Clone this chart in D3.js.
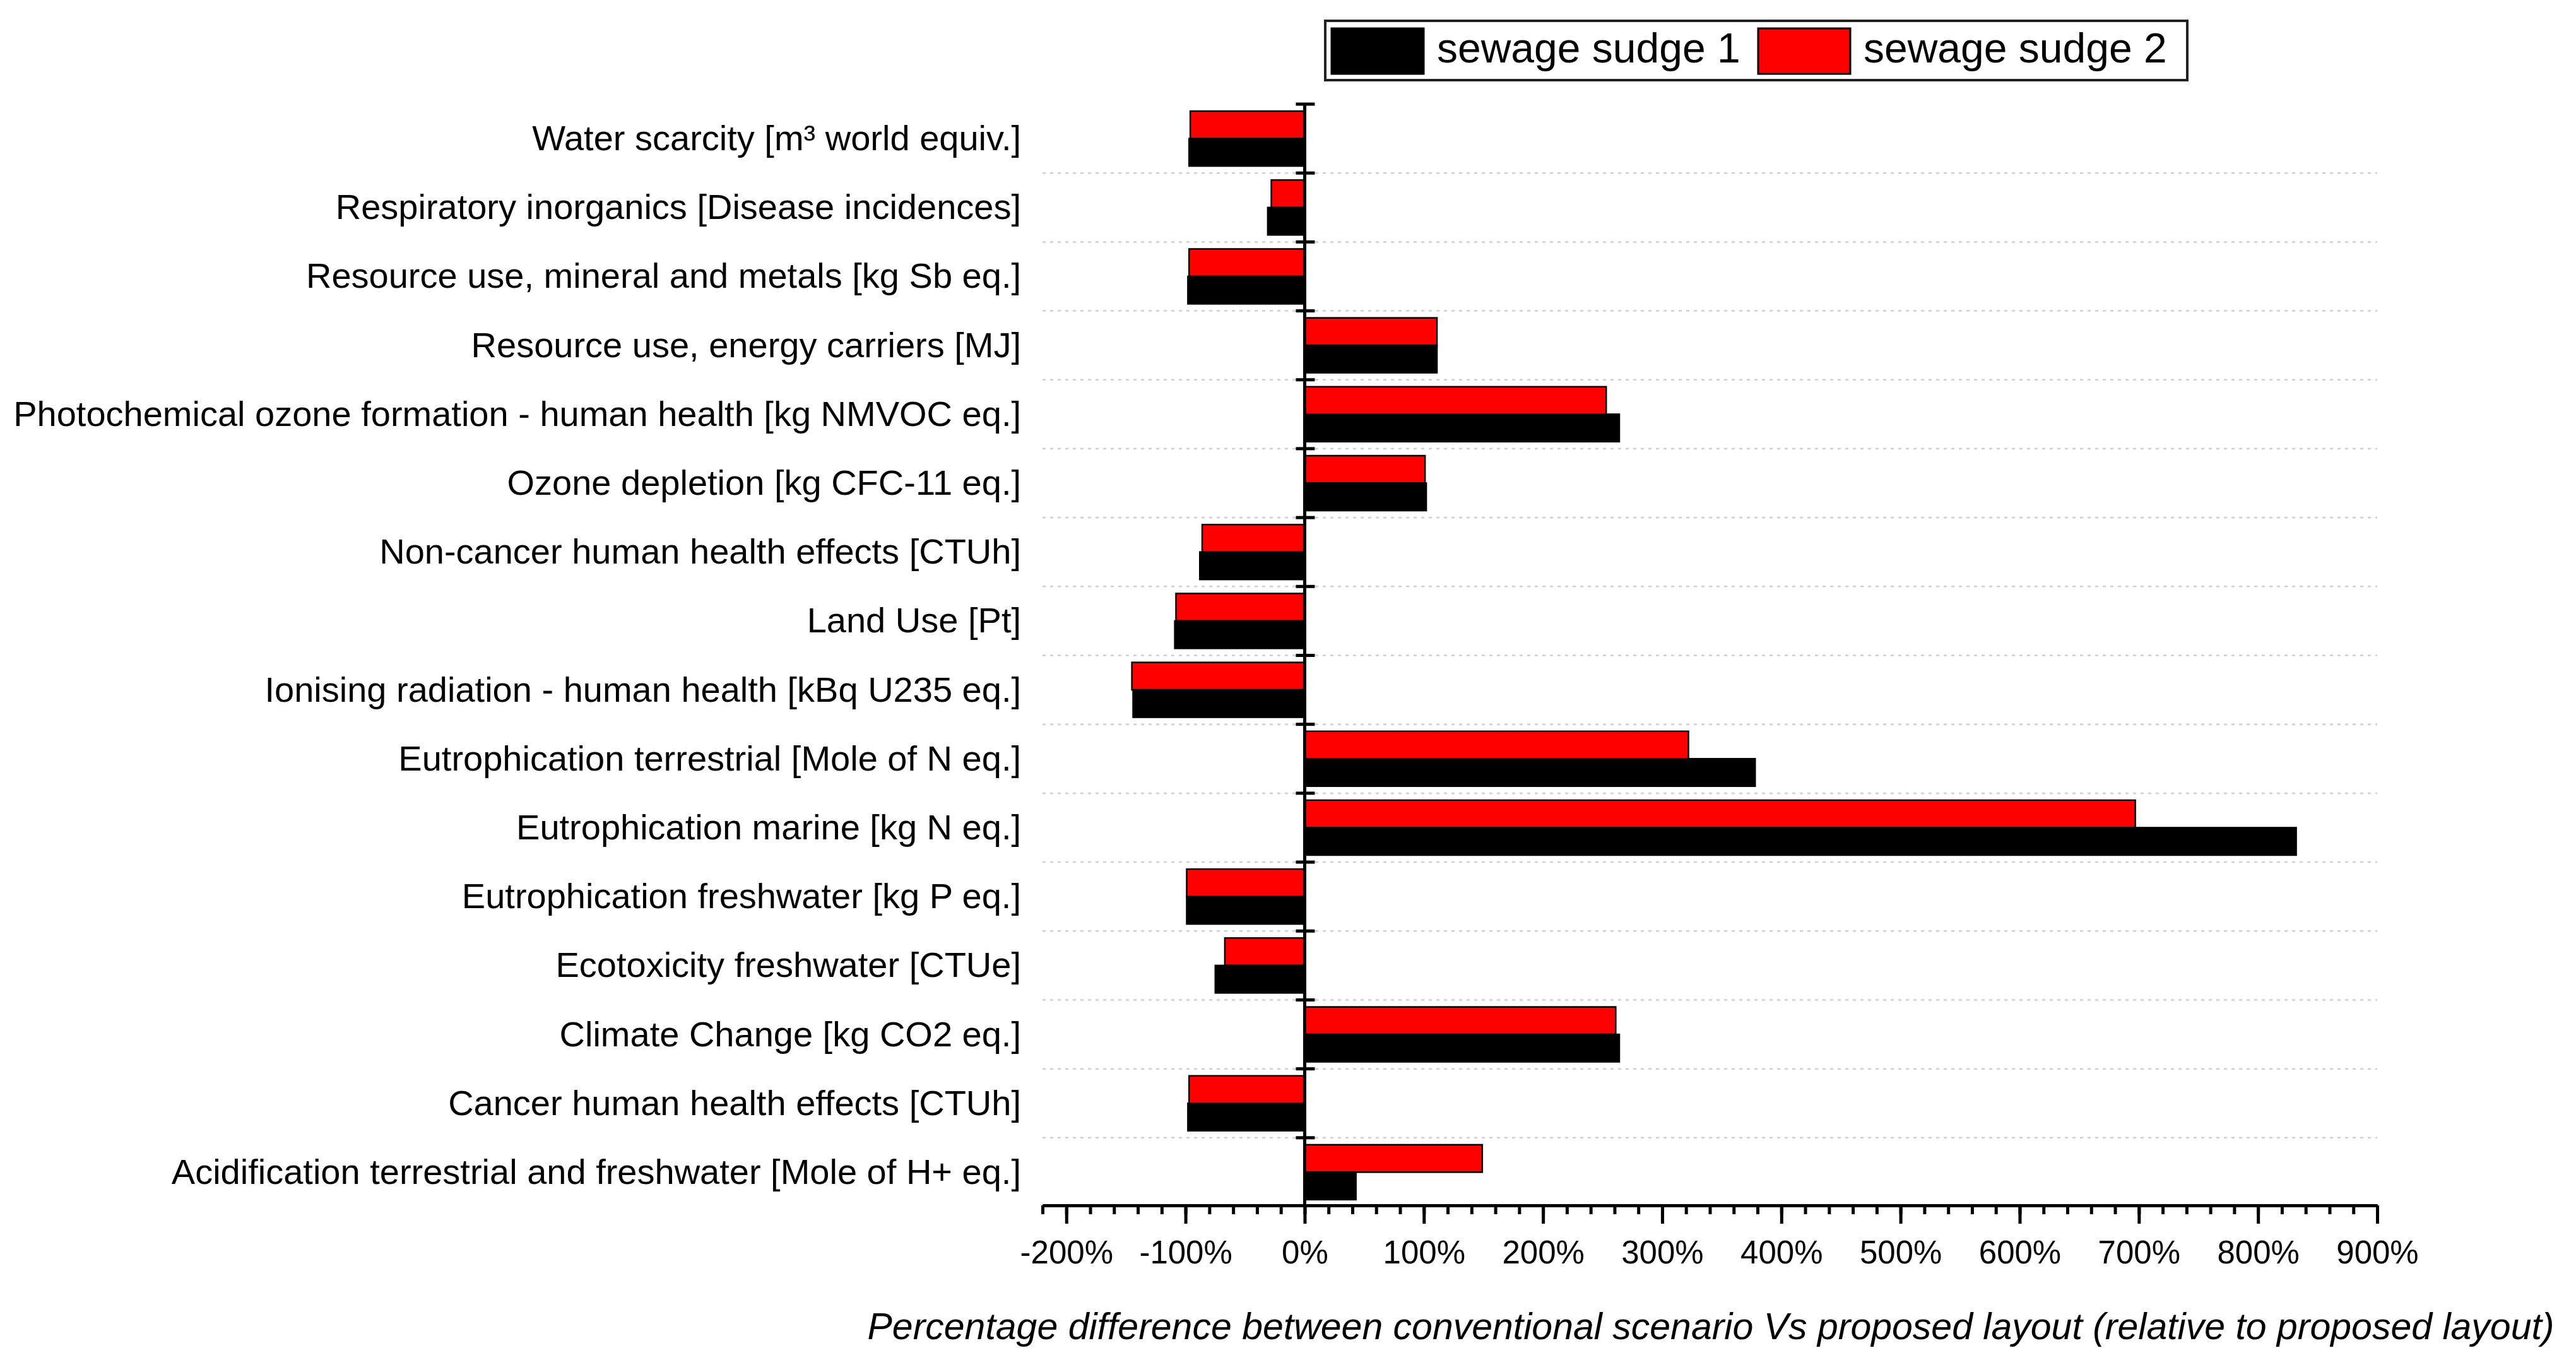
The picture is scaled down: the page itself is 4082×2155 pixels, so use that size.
<!DOCTYPE html>
<html>
<head>
<meta charset="utf-8">
<script src="https://cdn.jsdelivr.net/npm/d3@7"></script>
<style>
  body { margin: 0; background: #fff; }
  text { font-family: "Liberation Sans", Arial, sans-serif; fill: #000; }
</style>
</head>
<body>
<div id="chart"></div>
<script>
var width = 4082,
    height = 2155;

// categories, top to bottom
var categories = [
  "Water scarcity [m³ world equiv.]",
  "Respiratory inorganics [Disease incidences]",
  "Resource use, mineral and metals [kg Sb eq.]",
  "Resource use, energy carriers [MJ]",
  "Photochemical ozone formation - human health [kg NMVOC eq.]",
  "Ozone depletion [kg CFC-11 eq.]",
  "Non-cancer human health effects [CTUh]",
  "Land Use [Pt]",
  "Ionising radiation - human health [kBq U235 eq.]",
  "Eutrophication terrestrial [Mole of N eq.]",
  "Eutrophication marine [kg N eq.]",
  "Eutrophication freshwater [kg P eq.]",
  "Ecotoxicity freshwater [CTUe]",
  "Climate Change [kg CO2 eq.]",
  "Cancer human health effects [CTUh]",
  "Acidification terrestrial and freshwater [Mole of H+ eq.]"
];

// percentage differences
var sludge1 = [-97, -31, -98, 111, 264, 102, -88, -109, -144, 378, 832, -99, -75, 264, -98, 43];
var sludge2 = [-96, -28, -97, 111, 253, 101, -86, -108, -145, 322, 697, -99, -67, 261, -97, 149];

var seriesNames = ["sewage sudge 1", "sewage sudge 2"],
    seriesColors = ["#000000", "#ff0000"];

var majorTicks = [-200, -100, 0, 100, 200, 300, 400, 500, 600, 700, 800, 900];
var xTitle = "Percentage difference between conventional scenario Vs proposed layout (relative to proposed layout)";

var svg = d3.select("#chart").append("svg")
            .attr("width", width)
            .attr("height", height);

// plot region
var plot = {left: 1652, right: 3767, top: 165, bottom: 1912};

var xScale = d3.scaleLinear()
               .domain([-220, 900])
               .range([plot.left, plot.right]);

var yScale = d3.scaleBand()
               .domain(categories)
               .range([plot.top, plot.bottom])
               .padding(0);

// red on top, black below inside each band
var inner = d3.scaleBand()
              .domain(["s2", "s1"])
              .range([0, yScale.bandwidth()])
              .paddingInner(0)
              .paddingOuter(0.255);

var rows = categories.map(function(c, i) {
  return {cat: c, s1: sludge1[i], s2: sludge2[i]};
});

// dotted gridlines between categories
svg.append("g")
   .selectAll("line")
   .data(categories.slice(1))
   .enter()
   .append("line")
   .attr("x1", plot.left)
   .attr("x2", plot.right)
   .attr("y1", d => yScale(d))
   .attr("y2", d => yScale(d))
   .style("stroke", "#cfcfcf")
   .style("stroke-width", 2.5)
   .style("stroke-dasharray", "5,7");

// bars
var groups = svg.append("g")
                .selectAll("g")
                .data(rows)
                .enter()
                .append("g")
                .attr("transform", d => "translate(0," + yScale(d.cat) + ")");

[["s2", seriesColors[1]], ["s1", seriesColors[0]]].forEach(function(s) {
  groups.append("rect")
        .attr("x", d => xScale(Math.min(0, d[s[0]])))
        .attr("width", d => Math.abs(xScale(d[s[0]]) - xScale(0)))
        .attr("y", inner(s[0]))
        .attr("height", inner.bandwidth())
        .style("fill", s[1])
        .style("stroke", "#000")
        .style("stroke-width", 2.5);
});

// vertical axis at 0 with ticks on the category boundaries
var x0 = xScale(0);
svg.append("line")
   .attr("x1", x0).attr("x2", x0)
   .attr("y1", plot.top - 2).attr("y2", plot.bottom)
   .style("stroke", "#000")
   .style("stroke-width", 5);

var bounds = categories.map(d => yScale(d)).concat([plot.bottom]);
svg.append("g")
   .selectAll("line")
   .data(bounds.slice(0, -1))
   .enter()
   .append("line")
   .attr("x1", x0 - 14)
   .attr("x2", x0 + 16)
   .attr("y1", d => d)
   .attr("y2", d => d)
   .style("stroke", "#000")
   .style("stroke-width", 5);

// category labels
svg.append("g")
   .selectAll("text")
   .data(categories)
   .enter()
   .append("text")
   .attr("x", 1618)
   .attr("y", d => yScale(d) + yScale.bandwidth() / 2)
   .attr("dy", "0.33em")
   .attr("text-anchor", "end")
   .style("font-size", "56px")
   .text(d => d);

// x axis: minor ticks every 20%, major every 100%
var minorTicks = d3.range(-220, 901, 20);
var xMinor = d3.axisBottom(xScale)
               .tickValues(minorTicks)
               .tickSize(14)
               .tickSizeOuter(0)
               .tickFormat("");

var gMinor = svg.append("g")
                .attr("transform", "translate(0," + 1910 + ")")
                .call(xMinor);

var xMajor = d3.axisBottom(xScale)
               .tickValues(majorTicks)
               .tickSize(29)
               .tickSizeOuter(0)
               .tickFormat(d => d + "%");

var gMajor = svg.append("g")
                .attr("transform", "translate(0," + 1910 + ")")
                .call(xMajor);

[gMinor, gMajor].forEach(function(g) {
  g.select(".domain").style("stroke", "#000").style("stroke-width", 5);
  g.selectAll(".tick line").style("stroke", "#000").style("stroke-width", 5);
});

gMajor.selectAll(".tick text")
      .attr("y", 92)
      .attr("dy", 0)
      .style("font-size", "51px")
      .style("font-family", "'Liberation Sans', Arial, sans-serif")
      .style("fill", "#000");

svg.append("text")
   .attr("x", 2711)
   .attr("y", 2122)
   .attr("text-anchor", "middle")
   .style("font-size", "59px")
   .style("font-style", "italic")
   .text(xTitle);

// legend
var legend = svg.append("g");
legend.append("rect")
      .attr("x", 2100).attr("y", 33)
      .attr("width", 1366).attr("height", 94)
      .style("fill", "#fff")
      .style("stroke", "#222")
      .style("stroke-width", 4);

var legendX = [2110, 2786];
seriesNames.forEach(function(name, i) {
  legend.append("rect")
        .attr("x", legendX[i]).attr("y", 45)
        .attr("width", 146).attr("height", 72)
        .style("fill", seriesColors[i])
        .style("stroke", "#000")
        .style("stroke-width", 3);
  legend.append("text")
        .attr("x", legendX[i] + 167)
        .attr("y", 99)
        .style("font-size", "66px")
        .text(name);
});
</script>
</body>
</html>
